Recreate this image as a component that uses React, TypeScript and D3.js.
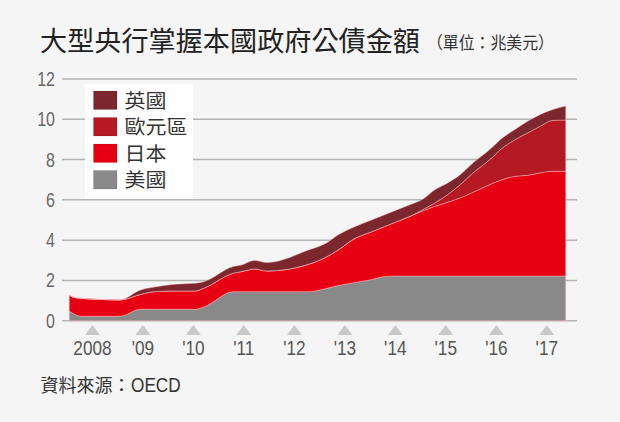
import { area, curveMonotoneX, scaleLinear, scaleTime, stack, timeParse } from 'd3';

const width = 620;
const height = 422;

// months (mid-month), stacked layer values in 兆美元
const months = [
	'2008-01', '2008-02', '2008-04', '2008-08', '2009-01', '2009-06', '2009-09',
	'2010-02', '2010-07', '2010-09', '2011-04', '2011-06', '2011-09', '2011-12',
	'2012-10', '2013-02', '2013-05', '2013-09', '2014-01', '2014-04', '2014-07',
	'2014-10', '2015-01', '2015-04', '2015-07', '2015-10', '2016-01', '2016-05',
	'2016-08', '2016-11', '2017-02', '2017-05', '2017-08', '2017-11',
];
const us = [
	0.47, 0.35, 0.22, 0.22, 0.22, 0.57, 0.57, 0.57, 0.57, 0.68, 1.44, 1.44, 1.44, 1.44,
	1.44, 1.6, 1.75, 1.9, 2.05, 2.19, 2.22, 2.22, 2.22, 2.22, 2.22, 2.22, 2.22, 2.22,
	2.22, 2.22, 2.22, 2.22, 2.22, 2.22,
];
const japan = [
	0.81, 0.81, 0.89, 0.84, 0.81, 0.74, 0.87, 0.91, 0.91, 0.94, 0.92, 1.0, 1.13, 1.03,
	1.37, 1.56, 1.77, 2.2, 2.38, 2.49, 2.71, 2.96, 3.23, 3.46, 3.66, 3.88, 4.16, 4.54,
	4.79, 4.95, 5.0, 5.12, 5.2, 5.2,
];
const euro = [
	0, 0, 0, 0, 0, 0, 0, 0, 0, 0, 0, 0, 0, 0, 0, 0, 0, 0, 0, 0, 0, 0,
	0.06, 0.17, 0.38, 0.66, 0.96, 1.24, 1.57, 1.83, 2.11, 2.32, 2.53, 2.54,
];
const uk = [
	0, 0, 0, 0, 0.01, 0.22, 0.22, 0.33, 0.38, 0.32, 0.33, 0.33, 0.42, 0.42, 0.71, 0.69,
	0.75, 0.58, 0.58, 0.58, 0.58, 0.58, 0.52, 0.66, 0.58, 0.5, 0.5, 0.5, 0.5, 0.5,
	0.58, 0.58, 0.54, 0.7,
];

const keys = ['us', 'japan', 'euro', 'uk'];
const seriesNames: Record<string, string> = { us: '美國', japan: '日本', euro: '歐元區', uk: '英國' };
const colors: Record<string, string> = { us: '#898989', japan: '#e60012', euro: '#b51a24', uk: '#7c272d' };
const legendOrder = ['uk', 'euro', 'japan', 'us'];

const yTicks = [0, 2, 4, 6, 8, 10, 12];
const years = [2008, 2009, 2010, 2011, 2012, 2013, 2014, 2015, 2016, 2017];
const yearLabel = (y: number) => (y === 2008 ? '2008' : `'${String(y).slice(2)}`);

const cjk = '"Noto Sans CJK TC", "Noto Sans CJK SC", sans-serif';
// no condensed face installed: Liberation Sans squeezed horizontally
const narrow = '"Liberation Sans", Arial, sans-serif';
const squeeze = 0.82;

const parseMonth = timeParse('%Y-%m-%d');

const App = () => {
	const data = months.map((m, i) => ({
		date: parseMonth(`${m}-15`) as Date,
		us: us[i],
		japan: japan[i],
		euro: euro[i],
		uk: uk[i],
	}));

	// triangles sit at mid-year
	const xScale = scaleTime()
		.domain([new Date(2008, 6, 1), new Date(2017, 6, 1)])
		.range([92.5, 546.8]);
	const yScale = scaleLinear().domain([0, 12]).range([320.7, 79]);

	const layers = stack<any>().keys(keys)(data);
	const areaGen = area<any>()
		.curve(curveMonotoneX)
		.x(d => xScale(d.data.date))
		.y0(d => yScale(d[0]))
		.y1(d => yScale(d[1]));

	return (
		<svg
			width={width}
			height={height}
			style={{ position: 'absolute', left: 0, top: 0, background: '#f5f5f5' }}
		>
			<rect width={width} height={height} fill="#f5f5f5" />
			<text x={40} y={51} fontFamily={cjk} fontSize={27} fill="#222" textLength={380} lengthAdjust="spacingAndGlyphs">
				大型央行掌握本國政府公債金額
			</text>
			<text x={427} y={48.5} fontFamily={cjk} fontSize={17} fill="#333" textLength={127} lengthAdjust="spacingAndGlyphs">
				（單位：兆美元）
			</text>

			{yTicks.map(t => (
				<g key={t} transform={`translate(0,${yScale(t)})`}>
					<line x1={62} x2={577} stroke="#b4b4b4" strokeWidth={1.5} />
					<g transform={`translate(55,0) scale(${squeeze},1)`}>
						<text dy="0.36em" textAnchor="end" fontFamily={narrow} fontSize={19.5} fill="#666">
							{t}
						</text>
					</g>
				</g>
			))}

			{layers.map(layer => (
				<path
					key={layer.key}
					d={areaGen(layer) || ''}
					fill={colors[layer.key]}
					stroke="rgba(255,190,195,0.55)"
					strokeWidth={0.8}
					strokeLinejoin="round"
				/>
			))}

			{years.map(y => {
				const x = xScale(new Date(y, 6, 1));
				return (
					<g key={y} transform={`translate(${x},0)`}>
						<path d="M-7.5,335 L0,325 L7.5,335 Z" fill="#c8c8c8" />
						<g transform={`scale(${squeeze},1)`}>
							<text y={355} textAnchor="middle" fontFamily={narrow} fontSize={21} fill="#555">
								{yearLabel(y)}
							</text>
						</g>
					</g>
				);
			})}

			<g>
				<rect x={85} y={84} width={108} height={115} fill="#ffffff" />
				{legendOrder.map((k, i) => (
					<g key={k} transform={`translate(93.5,${91 + i * 26.5})`}>
						<rect width={23.5} height={18.5} fill={colors[k]} stroke="rgba(0,0,0,0.12)" strokeWidth={0.8} />
						<text x={31} y={16.5} fontFamily={cjk} fontSize={19} fill="#333" textLength={seriesNames[k].length * 21} lengthAdjust="spacingAndGlyphs">
							{seriesNames[k]}
						</text>
					</g>
				))}
			</g>

			<text x={40.5} y={392} fontFamily={cjk} fontSize={18} fill="#333">
				資料來源：
			</text>
			<g transform={`translate(131,392) scale(${squeeze},1)`}>
				<text fontFamily={narrow} fontSize={21} fill="#333">
					OECD
				</text>
			</g>
		</svg>
	);
};

export default App;
